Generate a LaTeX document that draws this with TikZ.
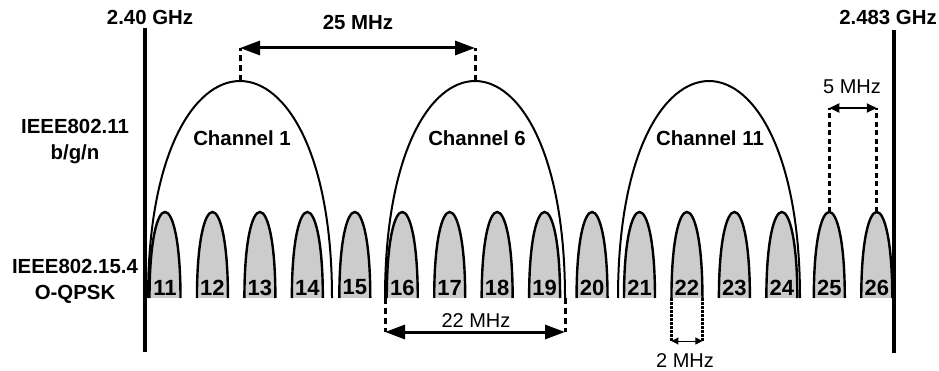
\documentclass[tikz,border=0pt]{standalone}
\usepackage{fontspec}
\setmainfont{Liberation Sans}
\usetikzlibrary{arrows.meta}
\tikzset{
  lbl/.style={font=\fontsize{20.4}{24}\selectfont\bfseries, inner sep=0pt, align=center},
  mlbl/.style={font=\fontsize{20}{24}\selectfont, inner sep=0pt},
  band/.style={line width=3.3pt},
  arch/.style={line width=2pt},
  bump/.style={fill=black!20, draw=black, line width=2.4pt},
  num/.style={font=\fontsize{22}{26}\selectfont\bfseries, inner sep=0pt},
  bigarrow/.style={line width=3pt, {Triangle[length=20pt,width=14pt]}-{Triangle[length=20pt,width=14pt]}},
  midarrow/.style={line width=2pt, {Triangle[length=10pt,width=9pt]}-{Triangle[length=10pt,width=9pt]}},
  smallarrow/.style={line width=1pt, {Triangle[length=7pt,width=7pt]}-{Triangle[length=7pt,width=7pt]}},
  dashv/.style={line width=3pt, dash pattern=on 6pt off 4pt},
  dotv/.style={line width=3pt, dash pattern=on 5pt off 3.5pt},
  finedot/.style={line width=2.5pt, dash pattern=on 2.5pt off 1.5pt}
}
\begin{document}
\begin{tikzpicture}[x=1pt,y=-1pt]
\useasboundingbox (0,0) rectangle (939,371);
% band edges
\node[lbl] (f1) at (150,17) {2.40 GHz};
\node[lbl] (f2) at (888,17) {2.483 GHz};
\coordinate (l1) at (145,28); \coordinate (l2) at (145,352);
\coordinate (r1) at (894,30); \coordinate (r2) at (894,353);
\draw[band] (l1) -- (l2);
\draw[band] (r1) -- (r2);
% side labels
\node[lbl] (wifi) at (75,142) {IEEE802.11\\[2pt]b/g/n};
\node[lbl] (zig) at (75,281) {IEEE802.15.4\\[2pt]O-QPSK};
% WiFi channels
\foreach \n/\a/\b in {1/148/332, 6/385/565, 11/618/800}{
  \draw[arch] (\a,298) .. controls (\a,8.7) and (\b,8.7) .. (\b,298);
  \coordinate (pk\n) at ({(\a+\b)/2},81);
  \coordinate (wl\n) at (\a,298);
  \coordinate (wr\n) at (\b,298);
}
\node[lbl] (c1) at (242,138) {Channel 1};
\node[lbl] (c6) at (477,138) {Channel 6};
\node[lbl] (c11) at (710,138) {Channel 11};
% 802.15.4 channels
\foreach \k in {11,...,26}{
  \pgfmathsetmacro{\c}{165+(\k-11)*47.45}
  \path[bump] (\c-15.5,298) .. controls (\c-15.5,183.3) and (\c+15.5,183.3) .. (\c+15.5,298);
  \coordinate (zp\k) at (\c,212);
  \coordinate (zl\k) at (\c-15.5,298);
  \coordinate (zr\k) at (\c+15.5,298);
  \node[num] (n\k) at (\c,287.5) {\k};
}
% 25 MHz
\coordinate (a1) at (pk1 |- 0,48);
\coordinate (a6) at (pk6 |- 0,48);
\draw[dashv] (pk1) -- (a1);
\draw[dashv] (pk6) -- (a6);
\draw[bigarrow] (a1) -- (a6);
\node[lbl] (t25) at (358,22) {25 MHz};
% 5 MHz
\coordinate (b25) at (zp25 |- 0,108);
\coordinate (b26) at (zp26 |- 0,108);
\draw[dotv] (zp25) -- (b25);
\draw[dotv] (zp26) -- (b26);
\draw[midarrow] (b25) -- (b26);
\node[mlbl] (t5) at (852,87) {5 MHz};
% 22 MHz
\coordinate (d1) at (wl6 |- 0,332);
\coordinate (d2) at (wr6 |- 0,332);
\draw[dashv] (wl6) -- (d1);
\draw[dashv] (wr6) -- (d2);
\draw[bigarrow] (d1) -- (d2);
\node[mlbl] (t22) at (476,321) {22 MHz};
% 2 MHz
\coordinate (e1) at (zl22 |- 0,341);
\coordinate (e2) at (zr22 |- 0,341);
\draw[finedot] (zl22) -- (e1);
\draw[finedot] (zr22) -- (e2);
\draw[smallarrow] (e1) -- (e2);
\node[mlbl] (t2) at (685,361) {2 MHz};
\end{tikzpicture}
\end{document}
